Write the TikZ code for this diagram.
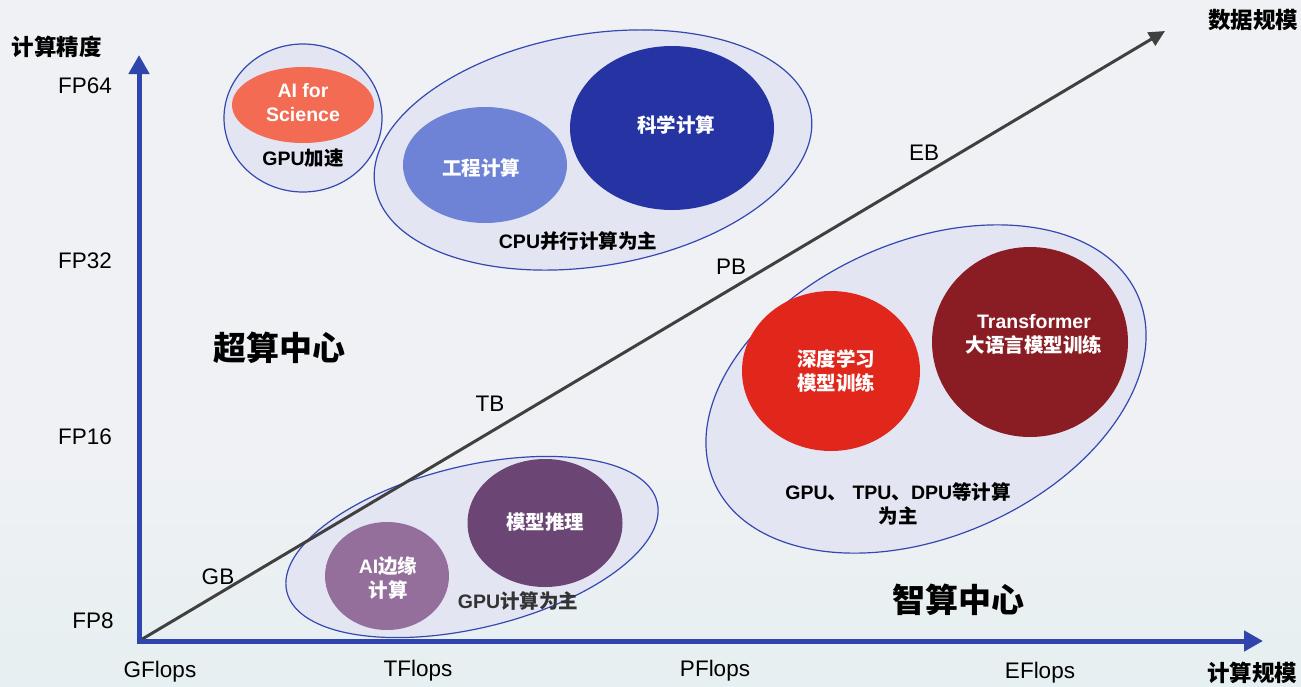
\documentclass[tikz,border=0pt]{standalone}
\usepackage{fontspec}
\setmainfont{Liberation Sans}
\newfontfamily\cjk{Noto Sans CJK SC}
\usetikzlibrary{shapes.geometric,arrows.meta}
\definecolor{bgc}{HTML}{EFF1F4}
\definecolor{bgb}{HTML}{E6EFF1}
\definecolor{axisblue}{HTML}{2F45AC}
\definecolor{rimblue}{HTML}{3548B0}
\definecolor{groupfill}{HTML}{E3E6F2}
\definecolor{aiscic}{HTML}{F26B52}
\definecolor{gcjsc}{HTML}{6F83D6}
\definecolor{kxjsc}{HTML}{2533A3}
\definecolor{sdxxc}{HTML}{E1261C}
\definecolor{tfmc}{HTML}{8A1C24}
\definecolor{byjsc}{HTML}{946F9C}
\definecolor{mxtlc}{HTML}{6B4574}
\definecolor{diagc}{HTML}{404040}
\newcommand\zh[1]{{\cjk #1}}
\begin{document}
\begin{tikzpicture}[x=1pt,y=-1pt,
  group/.style={ellipse, draw=rimblue, line width=1.2pt, fill=groupfill, inner sep=0pt},
  blob/.style={ellipse, inner sep=0pt, draw=none},
  intext/.style={text=white, font=\fontsize{19.5}{24}\selectfont\bfseries, align=center, inner sep=0pt},
  grouptext/.style={text=black, font=\fontsize{19.5}{24}\selectfont\bfseries, align=center, inner sep=0pt},
  lab/.style={font=\fontsize{22.5}{27}\selectfont, text=black, inner sep=0pt},
  axtitle/.style={font=\fontsize{22.5}{27}\selectfont\bfseries, text=black, inner sep=0pt},
  bigtitle/.style={font=\fontsize{33}{40}\selectfont\bfseries, text=black, inner sep=0pt},
  axisline/.style={draw=axisblue, line width=5pt, -{Triangle[length=19pt,width=20pt]}},
  diagline/.style={draw=diagc, line width=3pt, -{Triangle[length=16pt,width=15pt]}}
]
\fill[bgc] (0,0) rectangle (1301,686);
\shade[top color=bgc, bottom color=bgb] (0,470) rectangle (1301,686);
\useasboundingbox (0,0) rectangle (1301,686);

% groups
\node[group, minimum width=158pt, minimum height=148pt] (gpuacc) at (303,118) {};
\node[group, minimum width=442pt, minimum height=232pt, rotate=9.5] (cpu) at (593,150) {};
\node[group, minimum width=463pt, minimum height=295pt, rotate=23.8] (zhisuan) at (926,389) {};
\node[group, minimum width=381pt, minimum height=162pt, rotate=13.6] (tuili) at (472,547) {};

% inner blobs
\node[blob, fill=aiscic, minimum width=142pt, minimum height=76pt] (aisci) at (303,105) {};
\node[blob, fill=gcjsc, minimum width=164pt, minimum height=116pt] (gongcheng) at (485,165) {};
\node[blob, fill=kxjsc, minimum width=204pt, minimum height=164pt] (kexue) at (672,128) {};
\node[blob, fill=sdxxc, minimum width=178pt, minimum height=160pt] (shendu) at (831,371) {};
\node[blob, fill=tfmc, minimum width=196pt, minimum height=190pt] (transf) at (1030,342) {};
\node[blob, fill=byjsc, minimum width=124pt, minimum height=108pt] (bianyuan) at (387,576) {};
\node[blob, fill=mxtlc, minimum width=155pt, minimum height=128pt] (moxing) at (545,523) {};

% inner texts
\node[intext] (taisci) at (303,103) {AI for\\Science};
\node[grouptext] (tgpuacc) at (303,158) {GPU\zh{加速}};
\node[intext] (tgongcheng) at (481,168) {\zh{工程计算}};
\node[intext] (tkexue) at (676,125) {\zh{科学计算}};
\node[grouptext] (tcpu) at (578,241) {CPU\zh{并行计算为主}};
\node[intext] (tshendu) at (836,371) {\zh{深度学习}\\\zh{模型训练}};
\node[intext] (ttransf) at (1034,334) {Transformer\\\zh{大语言模型训练}};
\node[grouptext] (tzhisuan) at (898,504) {GPU\zh{、} TPU\zh{、}DPU\zh{等计算}\\\zh{为主}};
\node[intext] (tbianyuan) at (388,578) {AI\zh{边缘}\\\zh{计算}};
\node[intext] (tmoxing) at (545,522) {\zh{模型推理}};
\node[grouptext, text=black!80] (ttuili) at (518,601) {GPU\zh{计算为主}};

% axes
\coordinate (origin) at (139,641);
\coordinate (ytip) at (139,55);
\coordinate (xtip) at (1263,641);
\coordinate (dtip) at (1165,31);
\draw[diagline] (origin) -- (dtip);
\draw[axisline] ([yshift=-2.5pt]origin) -- (ytip);
\draw[axisline] ([xshift=-2.5pt]origin) -- (xtip);

% axis labels
\node[axtitle] (ytitle) at (57,47) {\zh{计算精度}};
\node[axtitle] (xtitle) at (1252,673) {\zh{计算规模}};
\node[axtitle] (dtitle) at (1253,20) {\zh{数据规模}};
\node[lab] (fp64) at (85,86) {FP64};
\node[lab] (fp32) at (85,261) {FP32};
\node[lab] (fp16) at (85,437) {FP16};
\node[lab] (fp8) at (93,621) {FP8};
\node[lab] (gfl) at (160,672) {GFlops};
\node[lab] (tfl) at (418,671) {TFlops};
\node[lab] (pfl) at (715,671) {PFlops};
\node[lab] (efl) at (1040,673) {EFlops};
\node[lab] (gb) at (218,577) {GB};
\node[lab] (tb) at (490,404) {TB};
\node[lab] (pb) at (731,267) {PB};
\node[lab] (eb) at (924,153) {EB};

\node[bigtitle] (chaosuan) at (279,348) {\zh{超算中心}};
\node[bigtitle] (zhisuanc) at (958,600) {\zh{智算中心}};
\end{tikzpicture}
\end{document}
